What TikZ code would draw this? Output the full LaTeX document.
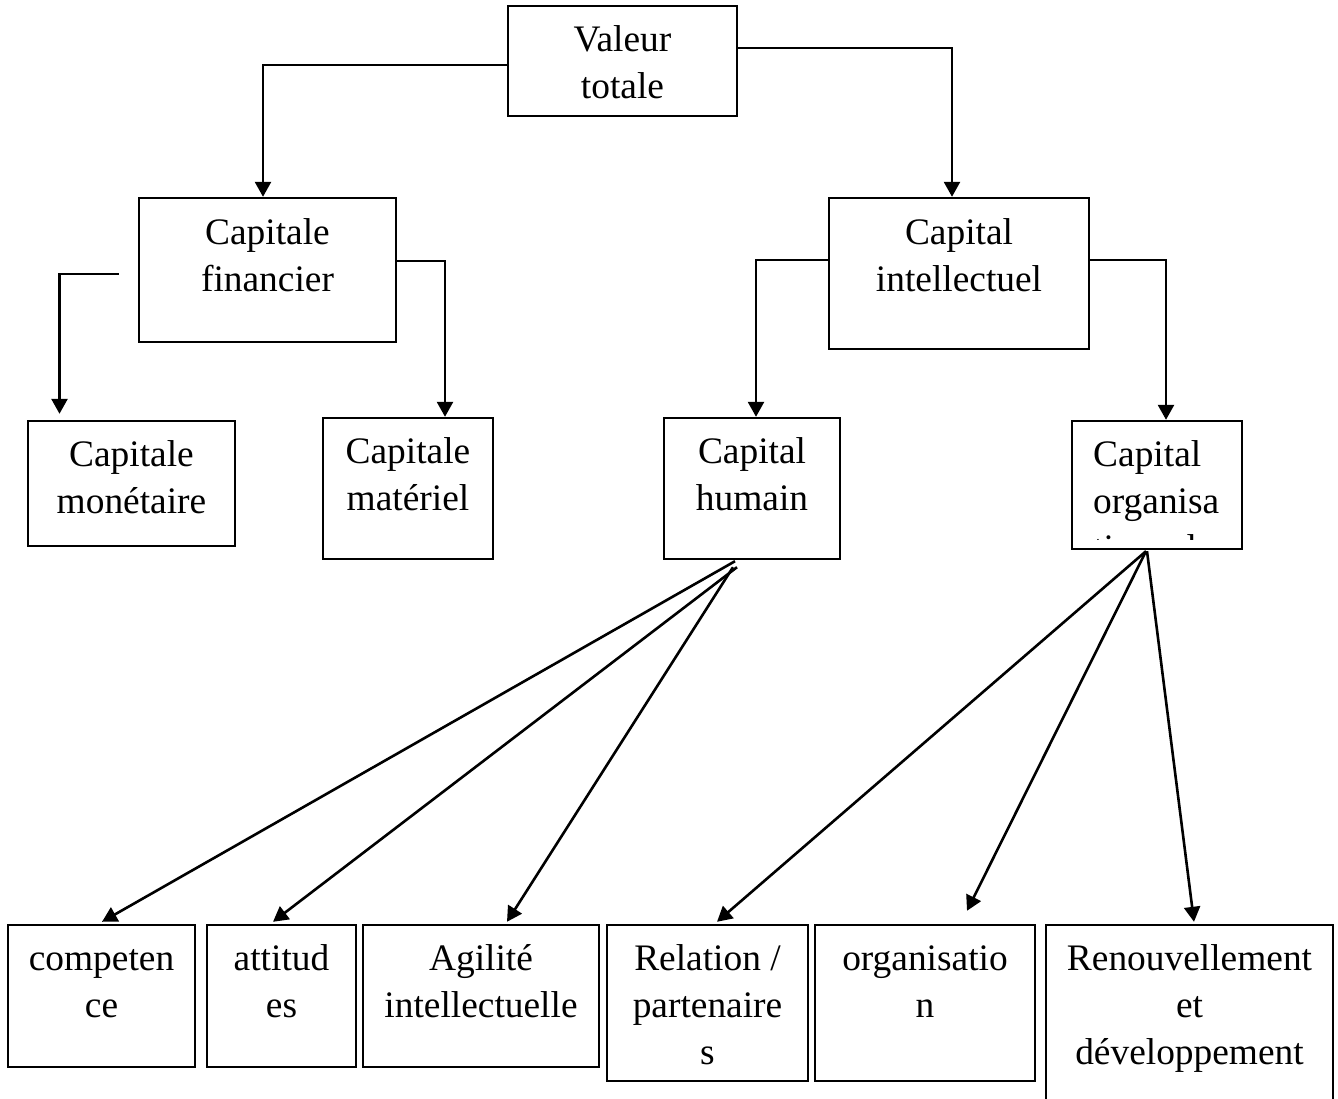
\documentclass[tikz,border=0pt]{standalone}
\usepackage{fontspec}
\setmainfont{Liberation Serif}
\usetikzlibrary{arrows.meta,calc}
\newcommand\boxfont{\fontsize{37.4}{47}\selectfont}
\tikzset{
  box/.style={draw, rectangle, line width=2.4pt, inner sep=0pt},
  boxtext/.style={font=\boxfont, align=center, inner sep=0pt, anchor=north},
  link/.style={line width=2.6pt, -{Triangle[length=15pt,width=16pt]}},
}
\begin{document}
\begin{tikzpicture}[x=1pt,y=-1pt]
\clip (0,0) rectangle (1338,1099);
\fill[white] (0,0) rectangle (1338,1099);

% top level
\node[box, minimum width=229, minimum height=110] (vt) at (622.5,61) {};
\node[boxtext] (vtt) at (622.5,18) {\strut Valeur\\totale};

% second level
\node[box, minimum width=257, minimum height=144] (cf) at (267.5,270) {};
\node[boxtext] (cft) at (267.5,211) {\strut Capitale\\financier};
\node[box, minimum width=260, minimum height=151] (ci) at (959,273.5) {};
\node[boxtext] (cit) at (959,211) {\strut Capital\\intellectuel};

% third level
\node[box, minimum width=207, minimum height=125] (cm) at (131.5,483.5) {};
\node[boxtext] (cmt) at (131.5,433) {\strut Capitale\\monétaire};
\node[box, minimum width=170, minimum height=141] (cmat) at (408,488.5) {};
\node[boxtext] (cmatt) at (408,430) {\strut Capitale\\matériel};
\node[box, minimum width=176, minimum height=141] (ch) at (752,488.5) {};
\node[boxtext] (cht) at (752,430) {\strut Capital\\humain};
\node[box, minimum width=170, minimum height=128] (co) at (1157,485) {};
\begin{scope}
  \clip (1073,422) rectangle (1241,539);
  \node[boxtext, align=left, anchor=north west] (cot) at (1093,433) {\strut Capital\\organisa\\tionnel};
\end{scope}

% bottom row
\node[box, minimum width=187, minimum height=142] (comp) at (101.5,996) {};
\node[boxtext] (compt) at (101.5,937) {\strut competen\\ce};
\node[box, minimum width=149, minimum height=142] (att) at (281.5,996) {};
\node[boxtext] (attt) at (281.5,937) {\strut attitud\\es};
\node[box, minimum width=236, minimum height=142] (agi) at (481,996) {};
\node[boxtext] (agit) at (481,937) {\strut Agilité\\intellectuelle};
\node[box, minimum width=201, minimum height=156] (rel) at (707.5,1003) {};
\node[boxtext] (relt) at (707.5,937) {\strut Relation /\\partenaire\\s};
\node[box, minimum width=220, minimum height=156] (org) at (925,1003) {};
\node[boxtext] (orgt) at (925,937) {\strut organisatio\\n};
\node[box, minimum width=287, minimum height=200] (ren) at (1189.5,1025) {};
\node[boxtext] (rent) at (1189.5,937) {\strut Renouvellement\\et\\développement};

% elbow connectors
\draw[link] ($(vt.west)+(0,4)$) -| ($(cf.north)+(-4.5,0)$);
\draw[link] ($(vt.east)+(0,-13)$) -| ($(ci.north)+(-7,0)$);
\draw[link] ($(cf.west)+(-19,4)$) -| ($(cm.north)+(-72,-6)$);
\draw[link] ($(cf.east)+(0,-9)$) -| ($(cmat.north)+(37,0)$);
\draw[link] ($(ci.west)+(0,-13.5)$) -| ($(ch.north)+(4,0)$);
\draw[link] ($(ci.east)+(0,-13.5)$) -| ($(co.north)+(9,0)$);

% fan from Capital humain
\draw[link] ($(ch.south)+(-17,1)$) -- ($(comp.north)+(0.5,-2)$);
\draw[link] ($(ch.south)+(-15,7)$) -- ($(att.north)+(-8.5,-2)$);
\draw[link] ($(ch.south)+(-19,7)$) -- ($(agi.north)+(26,-2)$);

% fan from Capital organisationnel
\draw[link] ($(co.south)+(-11,1)$) -- ($(rel.north)+(9.5,-2)$);
\draw[link] ($(co.south)+(-11,1)$) -- ($(org.north)+(42,-13)$);
\draw[link] ($(co.south)+(-10,1)$) -- ($(ren.north)+(4.5,-2)$);
\end{tikzpicture}
\end{document}
